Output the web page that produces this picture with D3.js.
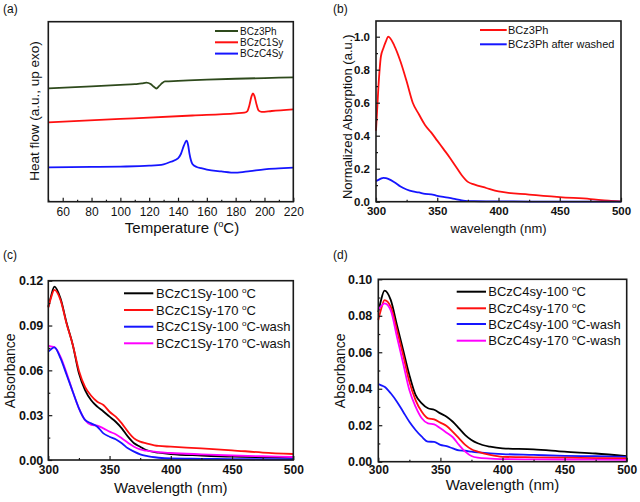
<!DOCTYPE html>
<html><head><meta charset="utf-8">
<script src="https://cdn.jsdelivr.net/npm/d3@7"></script>
<style>
body{margin:0;background:#fff;}
svg{display:block;font-family:"Liberation Sans",Arial,sans-serif;}
</style></head>
<body><svg id="c" width="640" height="502"></svg>
<script>
// ---------- DATA ----------
// Panel (a) DSC: [temperature, heat flow (a.u.)]
const dscTemp3Ph = [50,80,100,110,115,118,121,123,125,127,129,131,140,160,180,200,220];
const dscBCz3Ph  = [63.0,64.1,64.9,65.3,65.7,66.2,65.4,64.0,62.9,64.3,65.9,66.8,67.1,67.8,68.3,68.7,69.1];
const dscTempC1  = [50,100,150,180,186,188,189.5,191,192,193,194.5,196,198,205,220];
const dscBCzC1Sy = [44.1,46.0,47.9,49.1,49.5,50.2,53.5,58.5,60.2,58.8,54.0,50.6,49.9,50.4,51.3];
const dscTempC4  = [50,80,100,120,130,135,140,142,144,146,147,148,150,153,156,160,170,180,190,200,210,220];
const dscBCzC4Sy = [19.1,19.3,19.5,20.0,20.8,22.2,24.1,26.5,31.0,33.9,31.5,26.5,21.0,19.3,18.6,17.8,16.8,16.1,17.0,18.0,18.5,18.9];
const dscNames = ["BCz3Ph","BCzC1Sy","BCzC4Sy"];
const tempTicks = [60,80,100,120,140,160,180,200,220];

// Panel (b) normalized absorption
const wlB = [300,302,304,306,308,310,315,320,325,330,335,340,345,350,355,360,365,370,375,380,390,400,425,450,475,490,500];
const absBCz3Ph   = [0.43,0.70,0.88,0.93,0.97,1.0,0.945,0.85,0.73,0.60,0.53,0.465,0.42,0.37,0.32,0.27,0.215,0.16,0.12,0.105,0.083,0.062,0.043,0.028,0.016,0.006,0.002];
const absBCz3PhW  = [0.125,0.132,0.14,0.145,0.143,0.138,0.118,0.092,0.074,0.062,0.056,0.047,0.045,0.036,0.029,0.023,0.015,0.008,0.004,0.003,0.002,0.002,0.001,0.001,0.001,0.001,0.001];
const namesB = ["BCz3Ph","BCz3Ph after washed"];

// Panel (c) BCzC1Sy absorbance
const wl = [300,302,305,310,315,320,325,330,335,340,345,350,355,360,365,370,375,380,390,400,425,450,475,500];
const c1_100  = [0.1026,0.109,0.116,0.108,0.0915,0.077,0.058,0.0468,0.040,0.0357,0.0325,0.029,0.0256,0.0212,0.0156,0.0112,0.0089,0.0067,0.0049,0.004,0.003,0.0022,0.0018,0.0015];
const c1_170  = [0.102,0.108,0.1138,0.107,0.091,0.077,0.0598,0.049,0.043,0.039,0.0368,0.0323,0.029,0.0245,0.019,0.0145,0.0123,0.0112,0.0094,0.0089,0.0078,0.0065,0.005,0.004];
const c1_100w = [0.0725,0.074,0.0754,0.068,0.0569,0.0457,0.0346,0.0268,0.0245,0.0223,0.0178,0.0156,0.0139,0.0112,0.0078,0.0056,0.0038,0.0027,0.0015,0.001,0.0008,0.0006,0.0005,0.0005];
const c1_170w = [0.0765,0.076,0.0755,0.069,0.058,0.0457,0.0346,0.0268,0.0235,0.023,0.0212,0.019,0.0172,0.0145,0.0116,0.0089,0.0071,0.0062,0.0052,0.0047,0.0038,0.003,0.0025,0.002];
const namesC = ["BCzC1Sy-100 ","BCzC1Sy-170 ","BCzC1Sy-100 ","BCzC1Sy-170 "];
const suffixC = ["C","C","C-wash","C-wash"];

// Panel (d) BCzC4sy absorbance
const c4_100  = [0.082,0.088,0.0938,0.0887,0.075,0.0612,0.0475,0.0366,0.032,0.0293,0.0285,0.0265,0.0247,0.0219,0.0183,0.0146,0.0119,0.0101,0.0082,0.0073,0.0068,0.0055,0.0045,0.0031];
const c4_170  = [0.0777,0.083,0.0886,0.085,0.0722,0.0585,0.0439,0.0338,0.0274,0.0238,0.0232,0.0214,0.0196,0.0164,0.0128,0.0092,0.0068,0.0055,0.0037,0.0027,0.0024,0.0022,0.002,0.0018];
const c4_100w = [0.0426,0.042,0.0411,0.0375,0.0329,0.0274,0.0219,0.0174,0.0137,0.011,0.0109,0.0092,0.0085,0.0073,0.0062,0.006,0.0055,0.0051,0.0046,0.0042,0.0037,0.0032,0.003,0.0027];
const c4_170w = [0.0835,0.085,0.0868,0.083,0.0685,0.054,0.0393,0.0302,0.0238,0.021,0.0205,0.0183,0.0159,0.0134,0.0092,0.0055,0.0031,0.0022,0.0017,0.0014,0.0013,0.0012,0.0011,0.001];
const namesD = ["BCzC4sy-100 ","BCzC4sy-170 ","BCzC4sy-100 ","BCzC4sy-170 "];

// ---------- DRAW ----------
const svg = d3.select("#c");
const FONT = '"Liberation Sans",Arial,sans-serif';

function frame(x0,x1,y0,y1){
  svg.append("rect").attr("x",x0).attr("y",y0).attr("width",x1-x0).attr("height",y1-y0)
    .attr("fill","none").attr("stroke","#1a1a1a").attr("stroke-width",1.6);
}
function styleAxis(g,size,weight){
  g.select(".domain").remove();
  g.selectAll("line").attr("stroke","#1a1a1a").attr("stroke-width",1.2);
  g.selectAll("text").attr("font-size",size).attr("font-weight",weight).attr("fill","#111").attr("font-family",FONT);
}
function xAxis(x,yb,major,minor,pad,size,weight,fmt){
  const g=svg.append("g").attr("transform",`translate(0,${yb})`)
    .call(d3.axisBottom(x).tickValues(major).tickSize(-4).tickPadding(pad).tickFormat(fmt||d3.format("d")));
  styleAxis(g,size,weight);
  const m=svg.append("g").attr("transform",`translate(0,${yb})`)
    .call(d3.axisBottom(x).tickValues(minor).tickSize(-2).tickFormat(""));
  styleAxis(m,size,weight);
}
function yAxis(y,xl,major,minor,pad,size,weight,fmt){
  const g=svg.append("g").attr("transform",`translate(${xl},0)`)
    .call(d3.axisLeft(y).tickValues(major).tickSize(-4).tickPadding(pad).tickFormat(fmt));
  styleAxis(g,size,weight);
  const m=svg.append("g").attr("transform",`translate(${xl},0)`)
    .call(d3.axisLeft(y).tickValues(minor).tickSize(-2).tickFormat(""));
  styleAxis(m,size,weight);
}
function path(xs,ys,x,y,color,w){
  const pts=xs.map((v,i)=>[v,ys[i]]);
  svg.append("path").datum(pts).attr("fill","none").attr("stroke",color).attr("stroke-width",w||1.8)
    .attr("stroke-linejoin","round")
    .attr("d",d3.line().x(d=>x(d[0])).y(d=>y(d[1])).curve(d3.curveMonotoneX));
}
function txt(x,y,s,size,opts){
  opts=opts||{};
  const t=svg.append("text").attr("x",x).attr("y",y).attr("font-size",size).attr("font-family",FONT)
    .attr("fill","#111").attr("text-anchor",opts.anchor||"start");
  if(opts.rot) t.attr("transform",`rotate(-90,${x},${y})`);
  if(s) t.text(s);
  return t;
}
function degText(t,pre,post,size){
  t.append("tspan").text(pre);
  t.append("tspan").text("o").attr("font-size",size*0.62).attr("dy",-size*0.38);
  t.append("tspan").text(post).attr("dy",size*0.38);
}
function legend(items,xl0,xl1,xt,ys,size){
  items.forEach((it,i)=>{
    svg.append("line").attr("x1",xl0).attr("x2",xl1).attr("y1",ys[i]).attr("y2",ys[i])
      .attr("stroke",it.c).attr("stroke-width",2);
    const t=txt(xt,ys[i]+size*0.36,"",size);
    if(it.post!==undefined) degText(t,it.t,it.post,size); else t.text(it.t);
  });
}

// ---- Panel (a)
{
  const x=d3.scaleLinear().domain([50,220]).range([48.3,293.3]);
  const y=d3.scaleLinear().domain([0,100]).range([201.7,21.7]);
  path(dscTemp3Ph,dscBCz3Ph,x,y,"#2e4a1c",1.8);
  path(dscTempC1,dscBCzC1Sy,x,y,"#ff1010",1.8);
  path(dscTempC4,dscBCzC4Sy,x,y,"#1515ff",1.8);
  frame(48.3,293.3,21.7,201.7);
  xAxis(x,201.7,tempTicks,d3.range(50,221,10).filter(v=>v%20!==0),6,12,"normal");
  txt(3,13,"(a)",12);
  degText(txt(182,233,"",15,{anchor:"middle"}),"Temperature (","C)",15);
  txt(39,111,"Heat flow (a.u., up exo)",13.5,{anchor:"middle",rot:true});
  legend([{t:dscNames[0],c:"#2e4a1c"},{t:dscNames[1],c:"#ff1010"},{t:dscNames[2],c:"#1515ff"}],
    215,238,240,[31,42.3,53.6],10);
}
// ---- Panel (b)
{
  const x=d3.scaleLinear().domain([300,500]).range([376,621]);
  const y=d3.scaleLinear().domain([0,1.1]).range([201.7,20.2]);
  path(wlB,absBCz3Ph,x,y,"#ff1010",1.8);
  path(wlB,absBCz3PhW,x,y,"#1515ff",1.8);
  frame(376,621,21,201.7);
  xAxis(x,201.7,[300,350,400,450,500],[325,375,425,475],5,11.5,"bold");
  yAxis(y,376,[0,0.2,0.4,0.6,0.8,1.0],[0.1,0.3,0.5,0.7,0.9],6,11.5,"bold",d3.format(".1f"));
  txt(333,13,"(b)",12);
  txt(498.5,233,"wavelength (nm)",13,{anchor:"middle"});
  txt(352,116.7,"Normalized Absorption (a.u.)",13,{anchor:"middle",rot:true});
  legend([{t:namesB[0],c:"#ff1010"},{t:namesB[1],c:"#1515ff"}],480,506.7,508,[30,44.3],11);
}
// ---- Panel (c)
{
  const x=d3.scaleLinear().domain([300,500]).range([48.3,293.3]);
  const y=d3.scaleLinear().domain([0,0.12]).range([460,280.7]);
  path(wl,c1_100,x,y,"#000",1.8);
  path(wl,c1_170,x,y,"#ff1010",1.8);
  path(wl,c1_170w,x,y,"#ff00ff",1.8);
  path(wl,c1_100w,x,y,"#1515ff",1.8);
  frame(48.3,293.3,280.7,460);
  xAxis(x,460,[300,350,400,450,500],[325,375,425,475],5.5,12,"bold");
  yAxis(y,48.3,[0,0.03,0.06,0.09,0.12],[0.015,0.045,0.075,0.105],5,12.5,"bold",d3.format(".2f"));
  txt(3,259,"(c)",12);
  txt(170.8,492.7,"Wavelength (nm)",15,{anchor:"middle"});
  txt(15,370.8,"Absorbance",14,{anchor:"middle",rot:true});
  legend([{t:namesC[0],post:suffixC[0],c:"#000"},{t:namesC[1],post:suffixC[1],c:"#ff1010"},
          {t:namesC[2],post:suffixC[2],c:"#1515ff"},{t:namesC[3],post:suffixC[3],c:"#ff00ff"}],
    124,153.3,156,[293.3,310,326.7,343.3],13);
}
// ---- Panel (d)
{
  const x=d3.scaleLinear().domain([300,500]).range([378.3,626.7]);
  const y=d3.scaleLinear().domain([0,0.10]).range([461.7,279.3]);
  path(wl,c4_100,x,y,"#000",1.8);
  path(wl,c4_100w,x,y,"#1515ff",1.8);
  path(wl,c4_170,x,y,"#ff1010",1.8);
  path(wl,c4_170w,x,y,"#ff00ff",1.8);
  frame(378.3,626.7,279.3,461.7);
  xAxis(x,461.7,[300,350,400,450,500],[325,375,425,475],3.5,12,"bold");
  yAxis(y,378.3,[0,0.02,0.04,0.06,0.08,0.10],[0.01,0.03,0.05,0.07,0.09],6,12.5,"bold",d3.format(".2f"));
  txt(333,259,"(d)",12);
  txt(502.5,490,"Wavelength (nm)",15,{anchor:"middle"});
  txt(345,370.8,"Absorbance",14,{anchor:"middle",rot:true});
  legend([{t:namesD[0],post:suffixC[0],c:"#000"},{t:namesD[1],post:suffixC[1],c:"#ff1010"},
          {t:namesD[2],post:suffixC[2],c:"#1515ff"},{t:namesD[3],post:suffixC[3],c:"#ff00ff"}],
    456.7,486,488.3,[291.7,308.3,324,340.7],13);
}
</script></body></html>
